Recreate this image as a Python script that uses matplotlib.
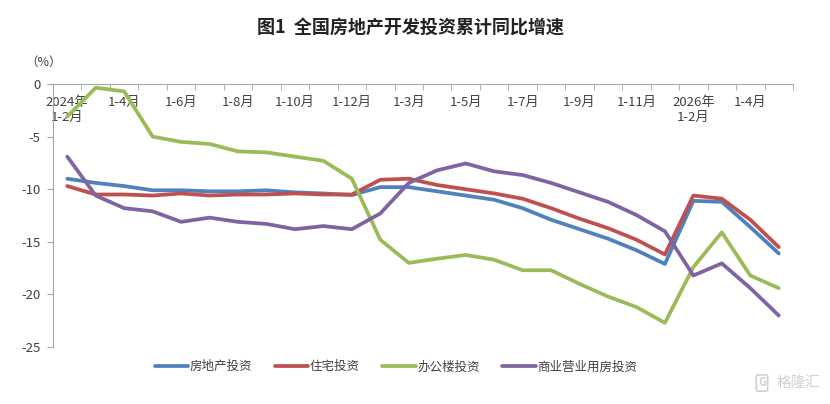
import numpy as np
import matplotlib
matplotlib.use('Agg')
import matplotlib.pyplot as plt
from matplotlib.ticker import FixedLocator

plt.rcParams['font.family'] = ['Noto Sans CJK SC', 'DejaVu Sans']
plt.rcParams['axes.unicode_minus'] = False

# categories: cumulative months 2024 1-2 .. 2026 1-5
months = ['1-2月', '1-3月', '1-4月', '1-5月', '1-6月', '1-7月', '1-8月', '1-9月', '1-10月', '1-11月', '1-12月']
categories = (['2024年\n1-2月'] + months[1:] + ['2025年\n1-2月'] + months[1:]
              + ['2026年\n1-2月', '1-3月', '1-4月', '1-5月'])

real_estate = [-9.0, -9.4, -9.7, -10.1, -10.1, -10.2, -10.2, -10.1, -10.3, -10.4, -10.55,
               -9.8, -9.8, -10.2, -10.6, -11.0, -11.8, -12.9, -13.8, -14.7, -15.8, -17.1,
               -11.1, -11.2, -13.6, -16.1]
housing = [-9.7, -10.5, -10.5, -10.6, -10.4, -10.6, -10.5, -10.5, -10.4, -10.5, -10.5,
           -9.1, -9.0, -9.6, -10.0, -10.4, -10.9, -11.8, -12.8, -13.7, -14.8, -16.2,
           -10.6, -10.9, -12.9, -15.5]
office = [-3.1, -0.35, -0.7, -5.0, -5.5, -5.7, -6.4, -6.5, -6.9, -7.3, -9.0,
          -14.8, -17.0, -16.6, -16.25, -16.7, -17.7, -17.7, -19.0, -20.2, -21.2, -22.7,
          -17.4, -14.1, -18.2, -19.4]
commercial = [-6.9, -10.6, -11.8, -12.1, -13.1, -12.7, -13.1, -13.3, -13.8, -13.5, -13.8,
              -12.3, -9.4, -8.2, -7.55, -8.3, -8.65, -9.4, -10.3, -11.2, -12.45, -14.0,
              -18.2, -17.05, -19.4, -22.0]

series = [('房地产投资', real_estate, '#4F81BD'),
          ('住宅投资', housing, '#C0504D'),
          ('办公楼投资', office, '#9BBB59'),
          ('商业营业用房投资', commercial, '#8064A2')]

fig = plt.figure(figsize=(8.3, 4.04), dpi=100)
ax = fig.add_axes([0.0639, 0.141, 0.8915, 0.651])

x = np.arange(len(categories))
for name, vals, col in series:
    ax.plot(x, vals, color=col, lw=2.7, label=name, solid_capstyle='round')

ax.set_xlim(-0.5, len(categories) - 0.5)
ax.set_ylim(-25, 0)
ax.set_yticks([0, -5, -10, -15, -20, -25])
ax.set_yticklabels(['0', '-5', '-10', '-15', '-20', '-25'])

# x axis drawn along the zero line at the top
for s in ['top', 'right']:
    ax.spines[s].set_visible(False)
ax.spines['bottom'].set_position(('data', 0))
ax.spines['bottom'].set_color('#A6A6A6')
ax.spines['left'].set_color('#A6A6A6')

ax.set_xticks(x[::2])
ax.set_xticklabels(categories[::2], linespacing=1.25)
ax.xaxis.set_minor_locator(FixedLocator(np.arange(-0.5, len(categories), 1)))
ax.tick_params(axis='x', which='major', length=0, pad=8.5, labelsize=9.5, labelcolor='#404040')
ax.tick_params(axis='x', which='minor', length=4, color='#A6A6A6', direction='out')
ax.tick_params(axis='y', length=4, color='#A6A6A6', labelsize=9.5, labelcolor='#404040', pad=5)

fig.text(0.052, 0.845, '（%）', fontsize=9, color='#404040', ha='center', va='center')
fig.text(0.495, 0.93, '图1  全国房地产开发投资累计同比增速', fontsize=13, fontweight='bold',
         color='#222222', ha='center', va='center')

ax.legend(loc='center', bbox_to_anchor=(0.477, 0.092), bbox_transform=fig.transFigure,
          ncol=4, frameon=False, fontsize=9, handlelength=2.7, handletextpad=0.1,
          columnspacing=1.8, labelcolor='#404040')

fig.text(0.988, 0.052, '格隆汇', fontsize=10.5, color='#D0D0D0', ha='right', va='center')
fig.text(0.918, 0.052, 'G', fontsize=8, color='#D0D0D0', ha='center', va='center',
         fontweight='bold',
         bbox=dict(boxstyle='round,pad=0.15', fc='none', ec='#D0D0D0', lw=1.2))

fig.savefig('out.png', dpi=100)
